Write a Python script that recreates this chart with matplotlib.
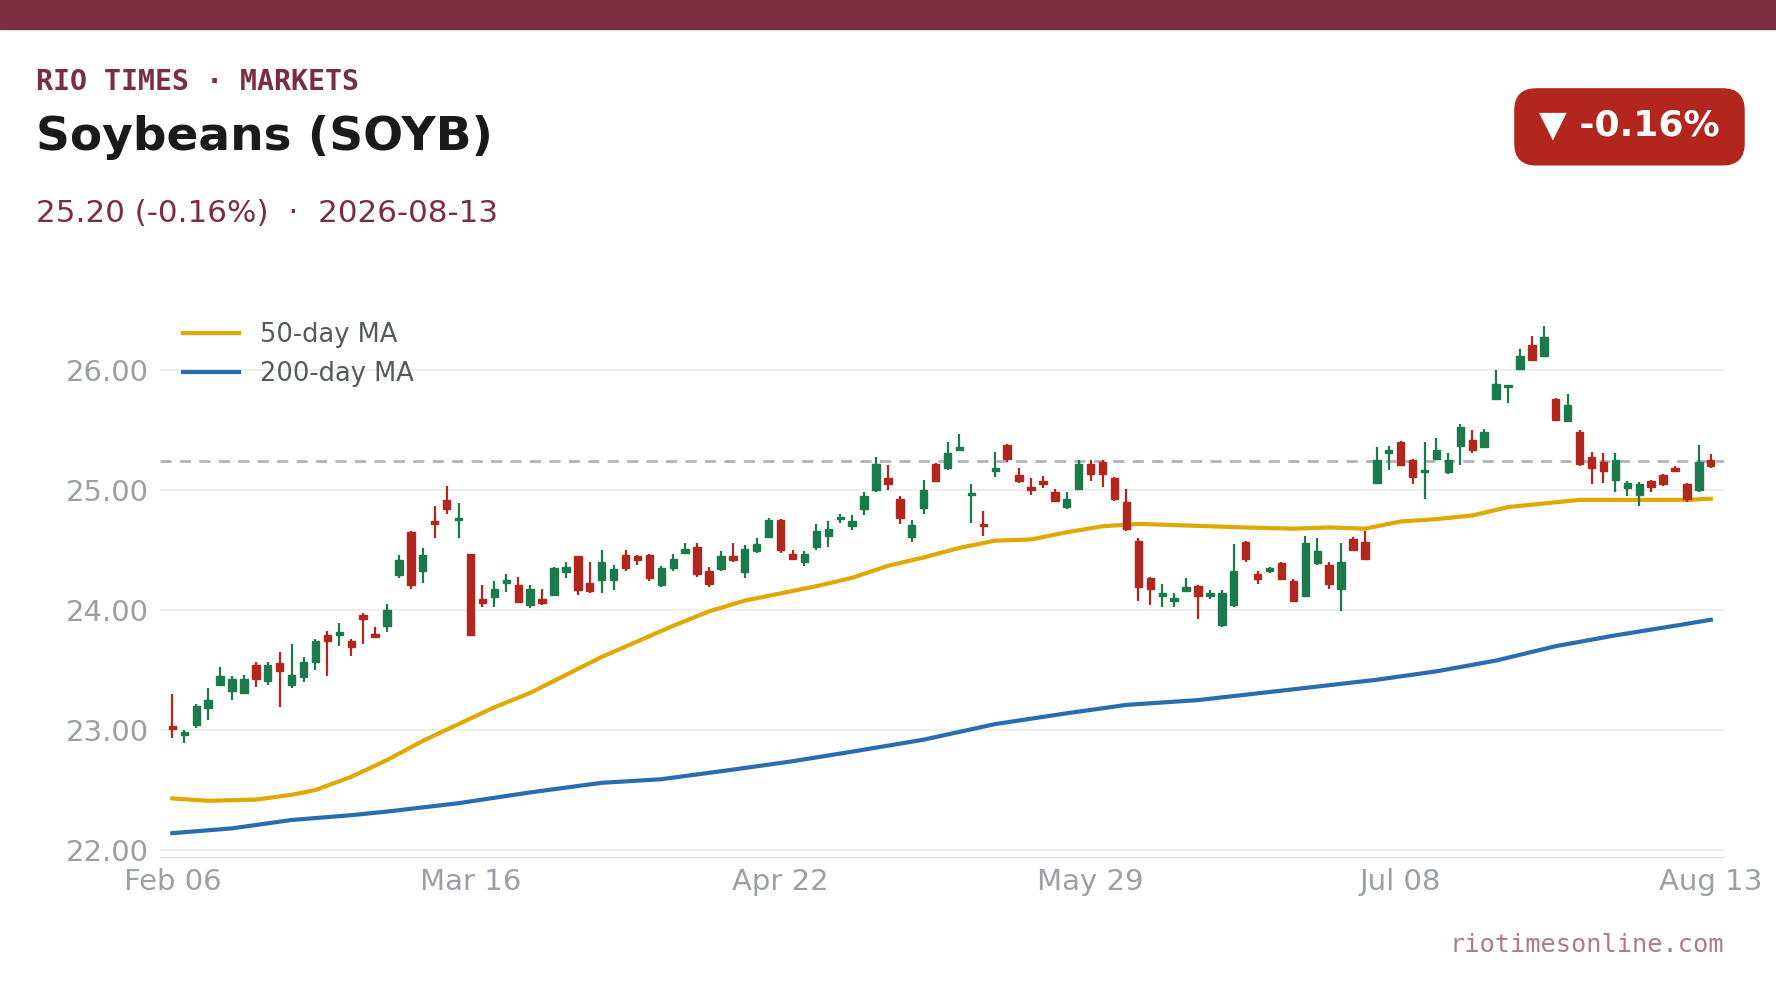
import matplotlib
matplotlib.use("Agg")
import matplotlib.pyplot as plt
from matplotlib.patches import FancyBboxPatch, Rectangle
import numpy as np

opens = [23.03,22.96,23.04,23.18,23.38,23.33,23.31,23.54,23.41,23.56,23.38,23.44,23.57,23.79,23.79,23.74,23.96,23.79,23.87,24.29,
         24.65,24.33,24.74,24.92,24.75,24.47,24.09,24.11,24.23,24.21,24.04,24.09,24.13,24.32,24.45,24.23,24.25,24.25,24.46,24.45,
         24.46,24.21,24.35,24.48,24.53,24.33,24.34,24.45,24.32,24.49,24.61,24.75,24.47,24.40,24.53,24.62,24.76,24.70,24.84,25.00,
         25.10,24.93,24.61,24.85,25.22,25.19,25.34,24.96,24.72,25.16,25.38,25.13,25.03,25.08,24.99,24.86,25.01,25.22,25.24,25.10,
         24.90,24.58,24.27,24.12,24.08,24.16,24.20,24.12,23.88,24.04,24.57,24.30,24.33,24.39,24.24,24.12,24.39,24.38,24.18,24.59,
         24.57,25.06,25.31,25.40,25.25,25.15,25.26,25.15,25.37,25.42,25.36,25.76,25.86,26.01,26.21,26.12,25.76,25.58,25.49,25.28,
         25.24,25.09,25.02,24.96,25.08,25.13,25.19,25.05,25.00,25.25]
closes = [23.01,22.98,23.20,23.25,23.45,23.43,23.43,23.43,23.54,23.49,23.46,23.57,23.74,23.74,23.82,23.69,23.93,23.78,24.00,24.42,
          24.21,24.46,24.72,24.84,24.76,23.79,24.06,24.18,24.24,24.07,24.18,24.06,24.35,24.36,24.17,24.16,24.40,24.34,24.35,24.42,
          24.27,24.35,24.43,24.51,24.30,24.22,24.45,24.42,24.51,24.55,24.75,24.50,24.43,24.47,24.66,24.68,24.77,24.74,24.95,25.22,
          25.05,24.77,24.71,25.00,25.08,25.31,25.35,24.97,24.70,25.19,25.26,25.08,25.00,25.05,24.91,24.93,25.22,25.14,25.14,24.93,
          24.68,24.19,24.18,24.13,24.09,24.19,24.12,24.13,24.14,24.33,24.43,24.26,24.34,24.26,24.08,24.56,24.49,24.22,24.40,24.50,
          24.43,25.25,25.34,25.21,25.11,25.16,25.34,25.25,25.53,25.34,25.49,25.89,25.87,26.12,26.09,26.28,25.59,25.71,25.22,25.19,
          25.16,25.25,25.06,25.05,25.03,25.05,25.16,24.93,25.24,25.20]
highs = [23.30,23.00,23.22,23.35,23.53,23.45,23.46,23.57,23.57,23.65,23.72,23.61,23.76,23.83,23.89,23.76,23.98,23.86,24.05,24.46,
         24.66,24.52,24.87,25.04,24.89,24.47,24.21,24.24,24.30,24.28,24.21,24.18,24.36,24.40,24.45,24.40,24.50,24.38,24.50,24.46,
         24.47,24.37,24.47,24.56,24.56,24.36,24.49,24.56,24.54,24.60,24.77,24.76,24.50,24.49,24.72,24.74,24.80,24.79,24.99,25.28,
         25.21,24.95,24.75,25.09,25.23,25.40,25.47,25.05,24.83,25.32,25.39,25.19,25.10,25.12,25.01,24.99,25.25,25.25,25.25,25.11,
         25.01,24.60,24.28,24.22,24.14,24.27,24.21,24.17,24.17,24.55,24.58,24.33,24.36,24.40,24.26,24.62,24.60,24.40,24.56,24.61,
         24.66,25.36,25.37,25.41,25.26,25.40,25.44,25.31,25.55,25.50,25.51,26.00,25.88,26.18,26.29,26.37,25.77,25.80,25.50,25.32,
         25.31,25.31,25.08,25.07,25.09,25.14,25.20,25.06,25.38,25.30]
lows = [22.93,22.89,23.02,23.08,23.38,23.25,23.30,23.36,23.38,23.19,23.35,23.40,23.50,23.45,23.70,23.62,23.72,23.77,23.82,24.27,
        24.18,24.23,24.60,24.80,24.60,23.79,24.03,24.03,24.15,24.06,24.02,24.04,24.12,24.27,24.13,24.14,24.14,24.17,24.33,24.38,
        24.24,24.19,24.33,24.47,24.28,24.19,24.33,24.40,24.27,24.48,24.60,24.48,24.42,24.37,24.50,24.53,24.73,24.67,24.79,24.99,
        25.00,24.72,24.57,24.80,25.07,25.17,25.33,24.73,24.62,25.11,25.24,25.06,24.96,25.02,24.90,24.84,25.00,25.08,25.03,24.91,
        24.66,24.08,24.04,24.03,24.03,24.15,23.93,24.09,23.86,24.03,24.40,24.22,24.31,24.25,24.07,24.11,24.38,24.18,23.99,24.49,
        24.42,25.05,25.17,25.20,25.05,24.93,25.25,25.14,25.21,25.31,25.35,25.75,25.73,26.00,26.08,26.11,25.58,25.57,25.20,25.05,
        25.06,24.99,24.95,24.87,24.99,25.04,25.15,24.90,24.99,25.19]

ma50_idx = [0,3,7,10,12,15,18,21,24,27,30,33,36,39,42,45,48,51,54,57,60,63,66,69,72,75,78,81,84,87,90,94,97,100,103,106,109,112,115,118,121,124,127,129]
ma50_val = [22.43,22.41,22.42,22.46,22.50,22.61,22.75,22.91,23.05,23.19,23.31,23.46,23.61,23.74,23.87,23.99,24.08,24.14,24.20,24.27,24.37,24.44,24.52,24.58,24.59,24.65,24.70,24.72,24.71,24.70,24.69,24.68,24.69,24.68,24.74,24.76,24.79,24.86,24.89,24.92,24.92,24.92,24.92,24.93]
ma200_idx = [0,5,10,15,18,24,30,36,41,47,52,57,63,69,75,80,86,94,101,106,111,116,121,126,129]
ma200_val = [22.14,22.18,22.25,22.29,22.32,22.39,22.48,22.56,22.59,22.67,22.74,22.82,22.92,23.05,23.14,23.21,23.25,23.34,23.42,23.49,23.58,23.70,23.79,23.87,23.92]
xtick_pos = [0, 25, 51, 77, 103, 129]
xtick_labels = ["Feb 06","Mar 16","Apr 22","May 29","Jul 08","Aug 13"]
ref_level = 25.245

GREEN = "#1a7a4c"; RED = "#b3261e"; MAROON = "#7b2d42"

fig = plt.figure(figsize=(17.76, 9.99), dpi=100)
fig.patches.append(Rectangle((0, 0.971), 1, 0.029, transform=fig.transFigure, color=MAROON, zorder=0))
ax = fig.add_axes([0.09, 0.142, 0.881, 0.552])

n = len(opens)
x = np.arange(n)
w = 0.62
for i in range(n):
    c = GREEN if closes[i] >= opens[i] else RED
    ax.vlines(x[i], lows[i], highs[i], color=c, lw=1.6, zorder=3)
    lo, hi = min(opens[i], closes[i]), max(opens[i], closes[i])
    ax.add_patch(Rectangle((x[i]-w/2, lo), w, max(hi-lo, 0.02), color=c, zorder=4))

ax.plot(ma50_idx, ma50_val, color="#e0a800", lw=3, label="50-day MA", zorder=2)
ax.plot(ma200_idx, ma200_val, color="#2b6cb0", lw=3, label="200-day MA", zorder=2)
ax.axhline(ref_level, color="#b0b3b8", lw=2, ls=(0, (4, 3)), zorder=1)

ax.set_xlim(-1.05, 130.15)
ax.set_ylim(21.94, 26.54)
ax.set_yticks([22, 23, 24, 25, 26])
ax.set_yticklabels([f"{v:.2f}" for v in [22, 23, 24, 25, 26]])
ax.set_xticks(xtick_pos)
ax.set_xticklabels(xtick_labels)
ax.grid(axis="y", color="#eeeeee", lw=1.5, zorder=0)
for s in ["top", "right", "left"]:
    ax.spines[s].set_visible(False)
ax.spines["bottom"].set_color("#dddddd")
ax.tick_params(axis="both", length=0, labelsize=21, labelcolor="#9aa0a6", pad=8)
leg = ax.legend(loc="upper left", frameon=False, fontsize=18.5, handlelength=2.2, bbox_to_anchor=(0.0, 1.012))
for t in leg.get_texts():
    t.set_color("#555a60")

fig.text(0.020, 0.918, "RIO TIMES · MARKETS", family="DejaVu Sans Mono", weight="bold", fontsize=20.3, color=MAROON, va="center")
fig.text(0.020, 0.862, "Soybeans (SOYB)", weight="bold", fontsize=33.8, color="#1a1a1a", va="center")
fig.text(0.020, 0.786, "25.20 (-0.16%)  ·  2026-08-13", fontsize=22.3, color=MAROON, va="center")
fig.patches.append(FancyBboxPatch((0.853, 0.835), 0.129, 0.076, boxstyle="round,pad=0,rounding_size=0.012",
                                  transform=fig.transFigure, color="#b3261e", mutation_aspect=1.78))
fig.text(0.9175, 0.874, "▼ -0.16%", weight="bold", fontsize=26, color="white", ha="center", va="center")
fig.text(0.971, 0.054, "riotimesonline.com", family="DejaVu Sans Mono", fontsize=18.3, color="#b07a8c", ha="right", va="center")

fig.savefig("out.png", dpi=100, facecolor="white")
